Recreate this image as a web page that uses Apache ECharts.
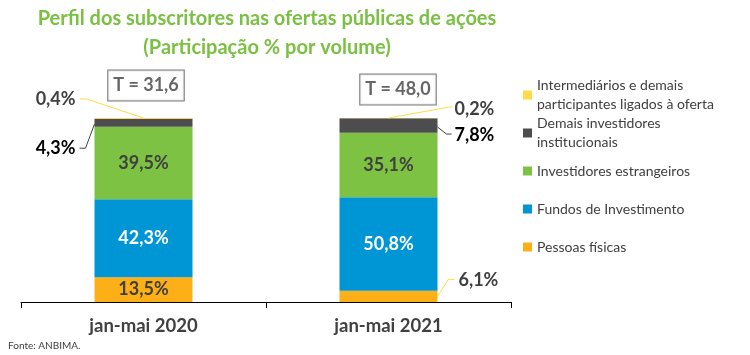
<!DOCTYPE html>
<html><head><meta charset="utf-8">
<script src="https://cdn.jsdelivr.net/npm/echarts@6/dist/echarts.min.js"></script>
<style>html,body{margin:0;padding:0;background:#fff}#c{width:750px;height:355px}</style>
</head><body><div id="c"></div>
<script>
// ---- data ----
const categories = ['jan-mai 2020', 'jan-mai 2021'];
const totals = [31.6, 48.0];
const pessoasFisicas = [13.5, 6.1];
const fundosInvestimento = [42.3, 50.8];
const investidoresEstrangeiros = [39.5, 35.1];
const demaisInstitucionais = [4.3, 7.8];
const intermediarios = [0.4, 0.2];

const seriesNames = ['Pessoas físicas', 'Fundos de Investimento', 'Investidores estrangeiros',
  'Demais investidores institucionais', 'Intermediários e demais participantes ligados à oferta'];
const legendText = ['Pessoas físicas', 'Fundos de Investimento', 'Investidores estrangeiros',
  'Demais investidores\ninstitucionais', 'Intermediários e demais\nparticipantes ligados à oferta'];
const seriesValues = [pessoasFisicas, fundosInvestimento, investidoresEstrangeiros, demaisInstitucionais, intermediarios];

// ---- styles ----
const FONT = 'Lato';
const colors = ['#FCAF17', '#0096D6', '#7DC242', '#4D4D4F', '#FFDA4A'];
const insideLabelColors = ['#404040', '#ffffff', '#404040', '#404040', '#404040'];
const callouts = [{cat: 0, seg: 4}, {cat: 0, seg: 3}, {cat: 1, seg: 4}, {cat: 1, seg: 3}, {cat: 1, seg: 0}];
const calloutTextColors = ['#404040', '#000000', '#404040', '#000000', '#404040'];
const legendIconCenters = [247, 209, 171, 133, 95];
const BAR_RATIO = 0.4;

const fmt = v => v.toFixed(1).replace('.', ',') + '%';
const isCallout = (cat, seg) => callouts.some(c => c.cat === cat && c.seg === seg);
const bottomOf = (cat, seg) => { let b = 0; for (let k = 0; k < seg; k++) b += seriesValues[k][cat]; return b; };

const barSeries = seriesValues.map((vals, s) => ({
  name: seriesNames[s],
  type: 'bar',
  stack: 'total',
  barWidth: (BAR_RATIO * 100) + '%',
  itemStyle: {color: colors[s]},
  label: {
    show: true, position: 'inside', formatter: p => fmt(p.value),
    fontFamily: FONT, fontWeight: 'bold', fontSize: 18, color: insideLabelColors[s]
  },
  data: vals.map((v, cat) => isCallout(cat, s) ? {value: v, label: {show: false}} : v)
}));

const calloutSeries = {
  type: 'custom',
  coordinateSystem: 'cartesian2d',
  z: 5,
  silent: true,
  clip: false,
  encode: {x: 0, y: 1},
  data: callouts.map(c => [c.cat, bottomOf(c.cat, c.seg) + seriesValues[c.seg][c.cat]]),
  renderItem: (params, api) => {
    const i = params.dataIndex;
    const c = callouts[i];
    const val = seriesValues[c.seg][c.cat];
    const bottom = bottomOf(c.cat, c.seg);
    const pTop = api.coord([c.cat, bottom + val]);
    const pBot = api.coord([c.cat, bottom]);
    const half = api.size([1, 0])[0] * BAR_RATIO / 2;
    const cx = pTop[0], left = cx - half, right = cx + half;
    const topY = pTop[1], botY = pBot[1], midY = (topY + botY) / 2;
    let pts, lx, ly, align;
    if (i === 0) { ly = topY - 19; lx = left - 19; align = 'right'; pts = [[left - 15, ly], [left - 8, ly], [cx, topY]]; }
    else if (i === 1) { ly = midY + 25.5; lx = left - 19; align = 'right'; pts = [[left - 15, ly], [left - 9, ly], [left, topY + 0.67 * (botY - topY)]]; }
    else if (i === 2) { ly = topY - 9; lx = right + 17; align = 'left'; pts = [[cx, topY], [right + 12, ly - 2], [right + 15, ly - 2]]; }
    else if (i === 3) { ly = midY + 9.5; lx = right + 17; align = 'left'; pts = [[right, midY + 1.5], [right + 9, ly - 1], [right + 14, ly - 1]]; }
    else { ly = midY - 16; lx = right + 21; align = 'left'; pts = [[right, midY], [right + 11, ly - 1], [right + 17, ly - 1]]; }
    return {
      type: 'group',
      children: [
        {type: 'polyline', shape: {points: pts}, style: {stroke: c.seg === 3 ? '#404040' : colors[c.seg === 0 ? 4 : c.seg], lineWidth: 1, fill: null}},
        {type: 'text', style: {text: fmt(val), x: lx, y: ly, align: align, verticalAlign: 'middle',
          fontFamily: FONT, fontWeight: 'bold', fontSize: 18, fill: calloutTextColors[i]}}
      ]
    };
  }
};

const totalSeries = {
  type: 'scatter',
  symbolSize: 1,
  itemStyle: {color: 'rgba(0,0,0,0)'},
  silent: true,
  z: 6,
  data: totals.map((t, i) => ({value: [i, 100], label: {offset: i === 0 ? [2.5, 0] : [9.5, 4]}})),
  label: {
    show: true, position: 'top', distance: 17,
    formatter: p => 'T = ' + totals[p.dataIndex].toFixed(1).replace('.', ','),
    fontFamily: FONT, fontWeight: 'bold', fontSize: 18, lineHeight: 20, color: '#404040',
    backgroundColor: '#ffffff', borderColor: '#595959', borderWidth: 1, padding: [5, 5, 5, 5]
  }
};

const legends = [0, 1, 2, 3, 4].map(s => {
  const twoLine = legendText[s].indexOf('\n') >= 0;
  const center = legendIconCenters[s];
  return {
    left: 523,
    top: twoLine ? center - 28.5 : center - 9.5,
    padding: 0,
    itemWidth: 9, itemHeight: 9,
    icon: 'rect',
    selectedMode: false,
    formatter: () => legendText[s],
    textStyle: {fontFamily: FONT, fontSize: 14, color: '#404040', lineHeight: 19,
      padding: twoLine ? [19, 0, 0, 0] : 0},
    data: [seriesNames[s]]
  };
});

const option = {
  animation: false,
  title: [
    {text: 'Perfil dos subscritores nas ofertas públicas de ações\n(Participação % por volume)',
      left: 267, top: 4, textAlign: 'center', padding: 0,
      textStyle: {fontFamily: FONT, fontWeight: 'bold', fontSize: 20, lineHeight: 29, color: '#7AC143'}},
    {text: 'Fonte: ANBIMA.', left: 8, top: 341, padding: 0,
      textStyle: {fontFamily: FONT, fontWeight: 'normal', fontSize: 10, color: '#404040'}}
  ],
  legend: legends,
  grid: {left: 21, right: 239, top: 118, bottom: 53, containLabel: false},
  xAxis: {
    type: 'category', data: categories,
    axisLine: {lineStyle: {color: '#000', width: 1}},
    axisTick: {show: true, length: 6, lineStyle: {color: '#000'}},
    axisLabel: {fontFamily: FONT, fontWeight: 'bold', fontSize: 18.5, color: '#404040', margin: 15}
  },
  yAxis: {type: 'value', min: 0, max: 100, show: false},
  series: [...barSeries, calloutSeries, totalSeries]
};
const chart = echarts.init(document.getElementById('c'), null, {renderer: 'canvas'});
chart.setOption(option);
</script></body></html>
